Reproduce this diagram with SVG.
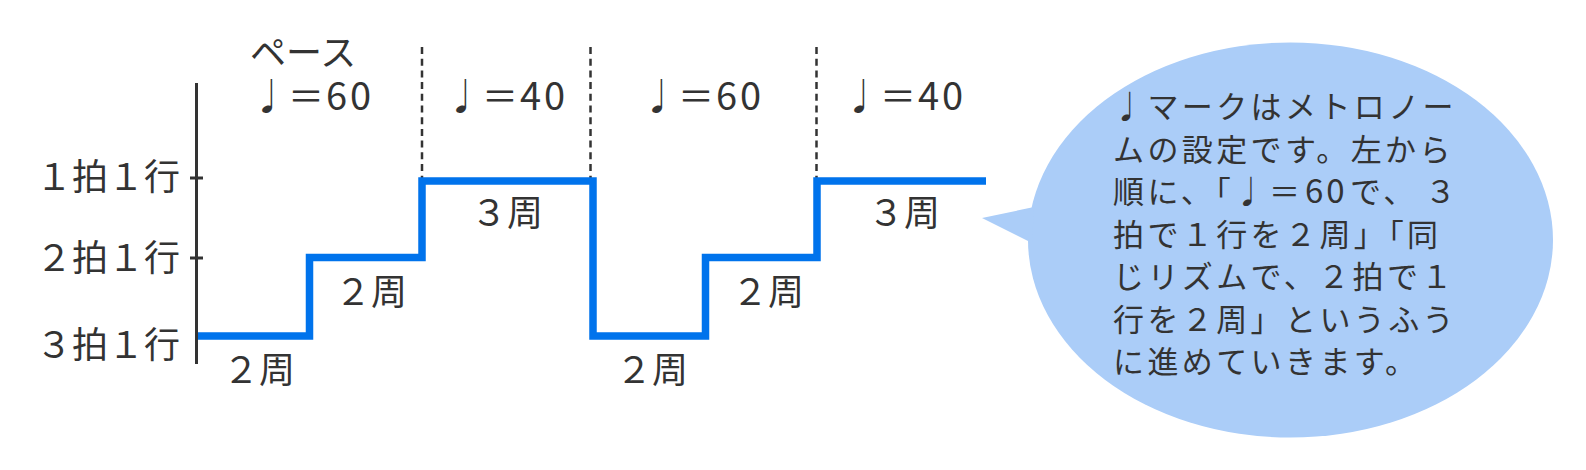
<svg xmlns="http://www.w3.org/2000/svg" width="1586" height="470" viewBox="0 0 1586 470">
<style>
.t{font-family:"Noto Sans CJK JP","Noto Sans CJK SC",sans-serif;fill:#333;font-size:36px}
.d{font-size:38px;letter-spacing:3px}
.b{font-family:"Noto Sans CJK JP","Noto Sans CJK SC",sans-serif;fill:#333;font-size:31px;letter-spacing:3.4px}
.bd{font-size:33px;letter-spacing:3px}
.ax{stroke:#333;stroke-width:3;fill:none}
.dash{stroke:#333;stroke-width:2.5;stroke-dasharray:7 4.7;fill:none}
.step{stroke:#0073ec;stroke-width:7.5;fill:none;stroke-linejoin:miter;stroke-linecap:butt}
</style>
<rect width="1586" height="470" fill="#fff"/>
<g id="axis">
<line class="ax" x1="196.5" y1="83" x2="196.5" y2="364"/>
<line class="ax" x1="190" y1="178" x2="203" y2="178" stroke-width="2.5"/>
<line class="ax" x1="190" y1="258" x2="203" y2="258" stroke-width="2.5"/>
</g>
<g id="axis-labels">
<text class="t" x="36" y="190">１拍１行</text>
<text class="t" x="36" y="271">２拍１行</text>
<text class="t" x="36" y="358">３拍１行</text>
</g>
<g id="dividers">
<line class="dash" x1="422" y1="47" x2="422" y2="178"/>
<line class="dash" x1="590.5" y1="47" x2="590.5" y2="178"/>
<line class="dash" x1="816.5" y1="47" x2="816.5" y2="178"/>
</g>
<g id="tempo-labels">
<text class="t" x="250" y="66">ペース</text>
<text class="t" x="252" y="110">♩＝<tspan class="d" x="326">60</tspan></text>
<text class="t" x="446" y="110">♩＝<tspan class="d" x="520">40</tspan></text>
<text class="t" x="642" y="110">♩＝<tspan class="d" x="716">60</tspan></text>
<text class="t" x="844" y="110">♩＝<tspan class="d" x="918">40</tspan></text>
</g>
<g id="connectors">
<path class="step" d="M198,336 H309.5 V257.5 H422 V181 H593 V336 H705.5 V257.5 H817 V181 H986"/>
</g>
<g id="lap-labels" text-anchor="middle">
<text class="t" x="259" y="383">２周</text>
<text class="t" x="371" y="305">２周</text>
<text class="t" x="507" y="226">３周</text>
<text class="t" x="652" y="383">２周</text>
<text class="t" x="768" y="305">２周</text>
<text class="t" x="904" y="226">３周</text>
</g>
<g id="bubble">
<ellipse cx="1290.5" cy="240" rx="262.5" ry="197.5" fill="#abcdf8"/>
<polygon points="982,218 1034,207 1032,243" fill="#abcdf8"/>
<text class="b" x="1113" y="118">♩マークはメトロノー</text>
<text class="b" x="1113" y="160.5">ムの設定です。左から</text>
<text class="b" x="1113" y="203">順に、「♩<tspan x="1269">＝</tspan><tspan class="bd" x="1305">60</tspan><tspan x="1350">で、</tspan><tspan x="1425">３</tspan></text>
<text class="b" x="1113" y="245.5">拍で１行を２周」「同</text>
<text class="b" x="1113" y="288">じリズムで、２拍で１</text>
<text class="b" x="1113" y="330.5">行を２周」というふう</text>
<text class="b" x="1113" y="373">に進めていきます。</text>
</g>
</svg>
